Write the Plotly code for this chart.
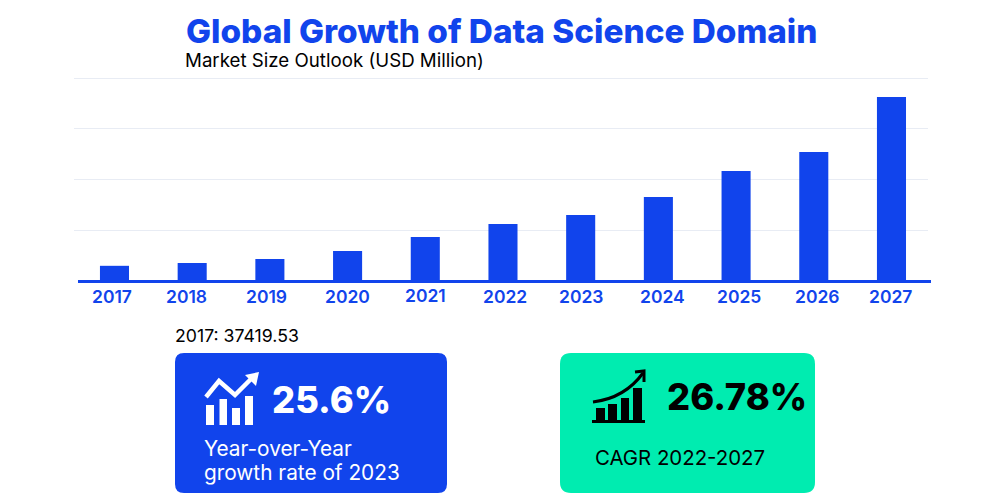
import plotly.graph_objects as go

years = ["2017", "2018", "2019", "2020", "2021", "2022", "2023", "2024", "2025", "2026", "2027"]
market_size = [37419.53, 44300, 54200, 73900, 108400, 140400, 162600, 206900, 270900, 317700, 453200]
y_grid = [0, 125000, 250000, 375000, 500000]
label_shift = [-2, -6, -3, 0, 0, 2, 1, 4, 3, 4, -1]
label_y = [296, 296, 296, 296, 295, 296, 296, 296, 296, 296, 296]

BLUE = "#1144EC"
GREEN = "#00ECB0"
FONT = "Inter"
W, H = 1000, 504
L, R, T, B = 74, 928, 75, 281


def X(p):
    return (p - L) / (R - L)


def Y(p):
    return (B - p) / (B - T)


def P(points, close=False):
    s = "M" + " L".join(f"{X(a):.5f},{Y(b):.5f}" for a, b in points)
    return s + (" Z" if close else "")


def round_rect(x0, y0, x1, y1, r):
    return (
        f"M{X(x0+r):.5f},{Y(y0):.5f} L{X(x1-r):.5f},{Y(y0):.5f} Q{X(x1):.5f},{Y(y0):.5f} {X(x1):.5f},{Y(y0+r):.5f} "
        f"L{X(x1):.5f},{Y(y1-r):.5f} Q{X(x1):.5f},{Y(y1):.5f} {X(x1-r):.5f},{Y(y1):.5f} "
        f"L{X(x0+r):.5f},{Y(y1):.5f} Q{X(x0):.5f},{Y(y1):.5f} {X(x0):.5f},{Y(y1-r):.5f} "
        f"L{X(x0):.5f},{Y(y0+r):.5f} Q{X(x0):.5f},{Y(y0):.5f} {X(x0+r):.5f},{Y(y0):.5f} Z"
    )


def fill_shape(path, color):
    return dict(type="path", xref="paper", yref="paper", path=path, fillcolor=color, line=dict(width=0), layer="above")


def stroke_shape(path, color, width):
    return dict(type="path", xref="paper", yref="paper", path=path, line=dict(color=color, width=width), layer="above")


def rect(x0, y0, x1, y1, color):
    return fill_shape(P([(x0, y0), (x1, y0), (x1, y1), (x0, y1)], True), color)


def text(s, x, y, size, color, weight=400, anchor="left"):
    return dict(text=s, x=X(x), y=Y(y), xref="paper", yref="paper", xanchor=anchor, yanchor="middle",
                showarrow=False, align="left",
                font=dict(family=FONT, size=size, color=color, weight=weight))


shapes = [
    fill_shape(round_rect(175, 353, 447, 493, 9), BLUE),
    fill_shape(round_rect(560, 353, 815, 493, 11), GREEN),
    # x-axis rule
    rect(78, 280, 931, 283, BLUE),
    # white icon bars
    rect(206, 405, 214, 425, "white"),
    rect(219.5, 399, 227, 425, "white"),
    rect(232, 408, 240, 425, "white"),
    rect(245, 396, 253, 425, "white"),
    stroke_shape(P([(206, 397), (219, 381), (235, 395), (252, 378)]), "white", 4.5),
    fill_shape(P([(259, 372), (256, 386), (245, 375)], True), "white"),
    # black icon
    rect(596, 408, 605, 420, "black"),
    rect(608, 404, 617, 420, "black"),
    rect(621, 398, 629, 420, "black"),
    rect(633, 388, 642, 420, "black"),
    rect(592, 420, 645, 423, "black"),
    stroke_shape(f"M{X(593):.5f},{Y(402):.5f} Q{X(625):.5f},{Y(398):.5f} {X(643):.5f},{Y(373):.5f}", "black", 3),
    stroke_shape(P([(635, 372), (644, 371), (644, 382)]), "black", 3),
]

annotations = [
    text("Global Growth of Data Science Domain", 501, 31, 33.3, BLUE, 800, "center"),
    text("Market Size Outlook (USD Million)", 183, 60, 18.7, "black", 400),
    text("2017: 37419.53", 173, 335, 17.7, "black", 400),
    text("25.6%", 270, 400, 36.3, "white", 800),
    text("Year-over-Year", 202, 448, 20.8, "white", 400),
    text("growth rate of 2023", 202, 472, 20.8, "white", 400),
    text("26.78%", 665, 397, 36.3, "black", 800),
    text("CAGR 2022-2027", 593, 457, 20.4, "black", 400),
]
for i, (yr, dx, ly) in enumerate(zip(years, label_shift, label_y)):
    annotations.append(dict(text=yr, x=i, xref="x", y=Y(ly), yref="paper", xshift=dx, xanchor="center",
                            yanchor="middle", showarrow=False,
                            font=dict(family=FONT, size=17.5, color=BLUE, weight=600)))

fig = go.Figure(go.Bar(x=years, y=market_size, marker=dict(color=BLUE, line=dict(width=0)), hoverinfo="x+y"))
fig.update_layout(
    width=W, height=H, autosize=False,
    margin=dict(l=L, r=W - R, t=T, b=H - B, pad=0),
    paper_bgcolor="white", plot_bgcolor="white",
    showlegend=False, bargap=0.626,
    font=dict(family=FONT),
    shapes=shapes, annotations=annotations,
)
fig.update_xaxes(type="category", range=[-0.521, 10.470], showgrid=False, showline=False, ticks="",
                 showticklabels=False)
fig.update_yaxes(range=[0, 507378], tickvals=y_grid, showticklabels=False, showgrid=True,
                 gridcolor="#E8ECF4", gridwidth=1, zeroline=False, showline=False)

fig.write_html("out.html", config=dict(displayModeBar=False),
               post_script="document.body.style.margin='0';document.body.style.overflow='hidden';")
